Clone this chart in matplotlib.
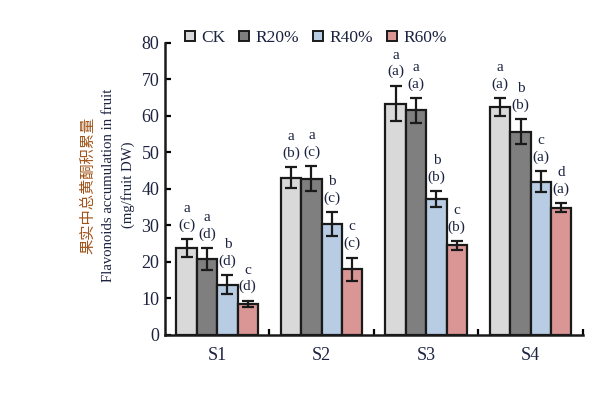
import numpy as np
import matplotlib
matplotlib.use("Agg")
import matplotlib.pyplot as plt
from matplotlib.lines import Line2D

plt.rcParams["font.family"] = ["Liberation Serif", "Noto Sans CJK SC"]

# ---- data ----
stages = ["S1", "S2", "S3", "S4"]
treatments = ["CK", "R20%", "R40%", "R60%"]
colors = ["#d9d9d9", "#7f7f7f", "#b8cce4", "#d99694"]

ck = [23.8, 43.1, 63.4, 62.5]
r20 = [20.9, 42.8, 61.5, 55.7]
r40 = [13.8, 30.4, 37.3, 42.0]
r60 = [8.5, 18.0, 24.5, 34.9]

ck_err = [2.5, 2.8, 4.9, 2.4]
r20_err = [3.0, 3.4, 3.5, 3.5]
r40_err = [2.5, 3.2, 2.2, 2.9]
r60_err = [0.9, 3.2, 1.1, 1.3]

# letter above = between treatments, (letter) = between stages
ck_sig = ["a", "a", "a", "a"]
r20_sig = ["a", "a", "a", "b"]
r40_sig = ["b", "b", "b", "c"]
r60_sig = ["c", "c", "c", "d"]
ck_stage = ["c", "b", "a", "a"]
r20_stage = ["d", "c", "a", "b"]
r40_stage = ["d", "c", "b", "a"]
r60_stage = ["d", "c", "b", "a"]

values = [ck, r20, r40, r60]
errors = [ck_err, r20_err, r40_err, r60_err]
sigs = [ck_sig, r20_sig, r40_sig, r60_sig]
stage_sigs = [ck_stage, r20_stage, r40_stage, r60_stage]

text_col = "#1c2340"

fig = plt.figure(figsize=(6.13, 3.94), dpi=100)
ax = fig.add_axes([0.269, 0.150, 0.682, 0.741])

x = np.arange(len(stages))
w = 0.195
for i, (vals, errs, col) in enumerate(zip(values, errors, colors)):
    pos = x + (i - 1.5) * w
    ax.bar(pos, vals, width=w, color=col, edgecolor="#1a1a1a", linewidth=1.6,
           zorder=2)
    ax.errorbar(pos, vals, yerr=errs, fmt="none", ecolor="#1a1a1a",
                elinewidth=1.6, capsize=4, capthick=1.6, zorder=3)
    for px, v, e, s1, s2 in zip(pos, vals, errs, sigs[i], stage_sigs[i]):
        ax.annotate(f"({s2})", (px, v + e), xytext=(0, 10),
                    textcoords="offset points", ha="center", va="center",
                    fontsize=11, color=text_col)
        ax.annotate(s1, (px, v + e), xytext=(0, 22),
                    textcoords="offset points", ha="center", va="center",
                    fontsize=11, color=text_col)

ax.set_xlim(-0.5, 3.5)
ax.set_ylim(0, 80)
ax.set_yticks(np.arange(0, 81, 10))
ax.set_xticks(x)
ax.set_xticklabels(stages)
ax.set_xticks([0.5, 1.5, 2.5, 3.5], minor=True)
ax.tick_params(axis="x", which="major", length=0, pad=9, labelsize=13,
               labelcolor=text_col)
ax.tick_params(axis="x", which="minor", direction="in", length=4, width=1.6)
ax.tick_params(axis="y", direction="in", length=4, width=1.6, pad=4,
               labelsize=13, labelcolor=text_col)
for side in ["top", "right"]:
    ax.spines[side].set_visible(False)
for side in ["left", "bottom"]:
    ax.spines[side].set_linewidth(1.8)
    ax.spines[side].set_color("#1a1a1a")

handles = [Line2D([], [], ls="none", marker="s", markersize=7,
                  markerfacecolor=c, markeredgecolor="#1a1a1a",
                  markeredgewidth=1.4) for c in colors]
fig.legend(handles, treatments, loc="center left", bbox_to_anchor=(0.288, 0.903),
           ncol=4, frameon=False, fontsize=12.5, handlelength=0.7,
           handletextpad=0.3, columnspacing=0.75, borderaxespad=0,
           labelcolor=text_col)

fig.text(0.144, 0.530, "果实中总黄酮积累量", rotation=90, ha="center",
         va="center", fontsize=11, color="#a0541a", family="Noto Sans CJK SC")
fig.text(0.177, 0.530, "Flavonoids accumulation in fruit", rotation=90,
         ha="center", va="center", fontsize=10.6, color=text_col)
fig.text(0.209, 0.530, "(mg/fruit DW)", rotation=90, ha="center",
         va="center", fontsize=10.6, color=text_col)

fig.savefig("out.png", dpi=100)
